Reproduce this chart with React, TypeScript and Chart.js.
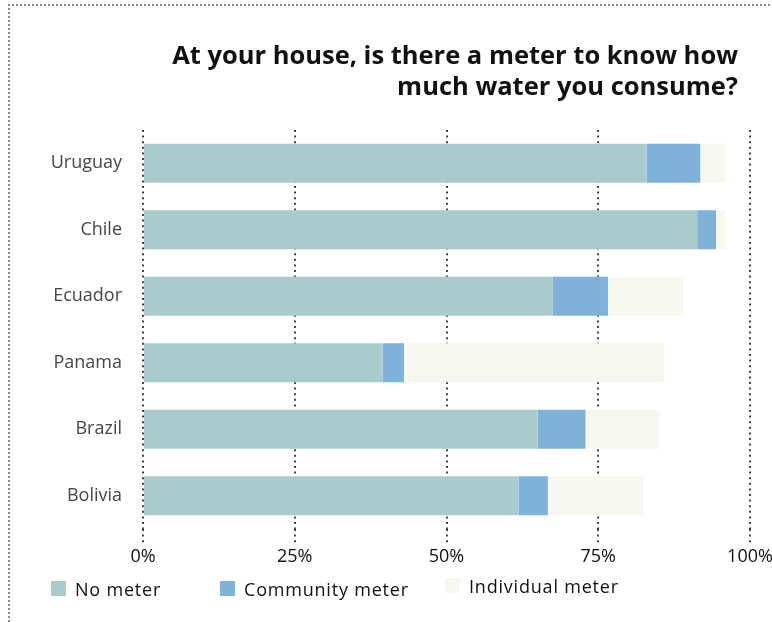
import React, { useEffect, useRef } from "react";
import { Chart, registerables } from "chart.js";

Chart.register(...registerables);

const categories = ["Uruguay", "Chile", "Ecuador", "Panama", "Brazil", "Bolivia"];
const noMeter = [83.0, 91.3, 67.5, 39.5, 65.0, 61.9];
const communityMeter = [8.8, 3.1, 9.1, 3.5, 7.9, 4.8];
const individualMeter = [4.1, 1.5, 12.5, 42.9, 12.2, 15.8];
const xTicks = [0, 25, 50, 75, 100];

const FONT = "'Open Sans', 'Lato', sans-serif";

export default function App() {
  const ref = useRef<HTMLCanvasElement | null>(null);

  useEffect(() => {
    if (!ref.current) return;
    const chart = new Chart(ref.current, {
      type: "bar",
      data: {
        labels: categories,
        datasets: [
          { label: "No meter", data: noMeter, backgroundColor: "#a9cbcb" },
          { label: "Community meter", data: communityMeter, backgroundColor: "#7eb2d8" },
          { label: "Individual meter", data: individualMeter, backgroundColor: "#f5f8ee" },
        ],
      },
      options: {
        indexAxis: "y",
        animation: false,
        responsive: false,
        maintainAspectRatio: false,
        layout: { padding: { left: 0, right: 50, top: 130, bottom: 53 } },
        datasets: { bar: { barPercentage: 0.587, categoryPercentage: 1 } },
        plugins: { legend: { display: false }, tooltip: { enabled: false }, title: { display: false } },
        scales: {
          x: {
            stacked: true,
            min: 0,
            max: 100,
            afterFit: (s: any) => { s.height = 40; },
            afterBuildTicks: (s: any) => { s.ticks = xTicks.map((v) => ({ value: v })); },
            ticks: {
              callback: (v: any) => v + "%",
              color: "#111",
              font: { family: FONT, size: 18 },
              padding: 3,
            },
            grid: {
              color: "#444",
              lineWidth: 2,
              tickLength: 14,
              tickColor: "#444",
              tickWidth: 2,
              tickBorderDash: [2, 3.6],
            },
            border: { display: false, dash: [2, 3.6] },
          },
          y: {
            stacked: true,
            afterFit: (s: any) => { s.width = 143; },
            ticks: {
              color: "#464646",
              font: { family: FONT, size: 18, weight: "500" },
              padding: 13,
            },
            grid: { display: false },
            border: { display: false },
          },
        },
      },
    });
    return () => chart.destroy();
  }, []);

  const legendItems = [
    { label: "No meter", color: "#a9cbcb", x: 51, y: 581 },
    { label: "Community meter", color: "#7eb2d8", x: 220, y: 581 },
    { label: "Individual meter", color: "#f5f8ee", x: 445, y: 578 },
  ];

  return (
    <div style={{ position: "absolute", left: 0, top: 0, width: 772, height: 622, overflow: "hidden", fontFamily: FONT }}>
      <div
        style={{
          position: "absolute",
          left: 8,
          top: 4,
          width: 800,
          height: 700,
          borderTop: "2px dotted #8a8a8a",
          borderLeft: "2px dotted #8a8a8a",
        }}
      />
      <canvas ref={ref} width={800} height={622} style={{ position: "absolute", left: 0, top: 0 }} />
      <div
        style={{
          position: "absolute",
          right: 34,
          top: 39,
          textAlign: "right",
          fontWeight: 700,
          fontSize: 25.5,
          lineHeight: "31px",
          color: "#111",
          whiteSpace: "nowrap",
        }}
      >
        At your house, is there a meter to know how
        <br />
        much water you consume?
      </div>
      {legendItems.map((it) => (
        <div key={it.label} style={{ position: "absolute", left: it.x, top: it.y, height: 15, display: "flex", alignItems: "center" }}>
          <div style={{ width: 15, height: 15, background: it.color, flex: "none" }} />
          <span style={{ marginLeft: 9, fontSize: 18, fontWeight: 500, letterSpacing: "0.8px", color: "#111", whiteSpace: "nowrap" }}>{it.label}</span>
        </div>
      ))}
    </div>
  );
}
